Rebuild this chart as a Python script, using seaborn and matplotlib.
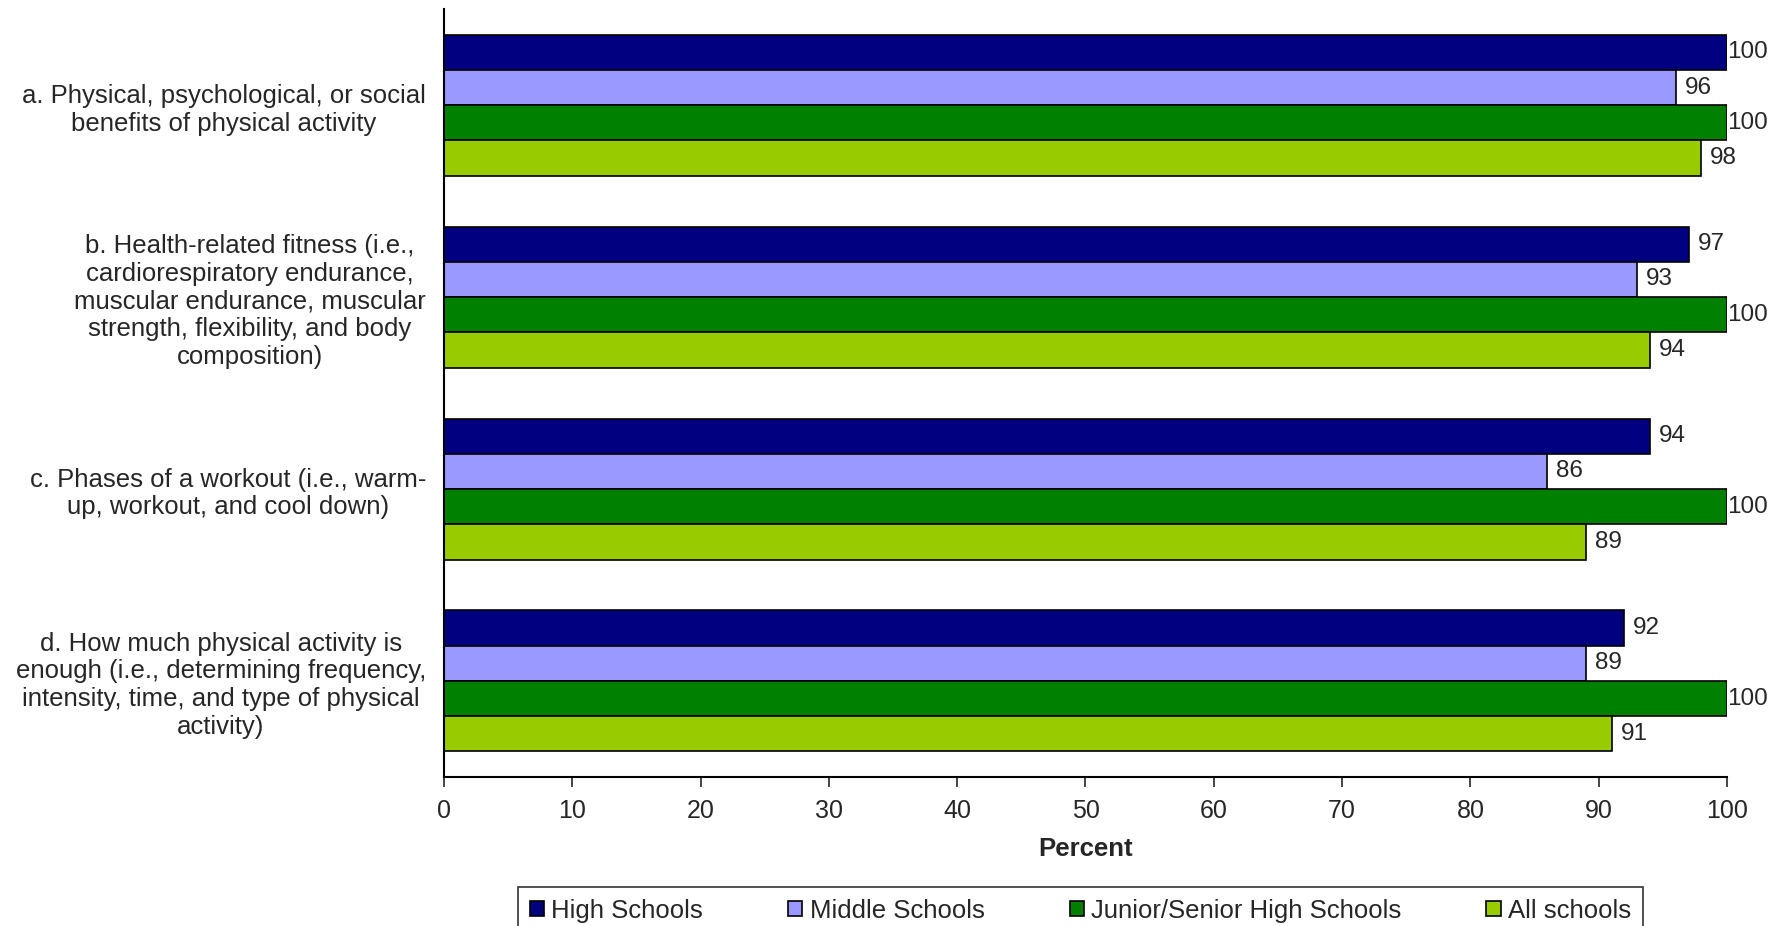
import matplotlib
matplotlib.use("Agg")
import matplotlib.pyplot as plt
import seaborn as sns
import pandas as pd

sns.set_style("white")
plt.rcParams['font.family'] = ['Liberation Sans', 'DejaVu Sans']

items = [
    "a. Physical, psychological, or social\nbenefits of physical activity",
    "b. Health-related fitness (i.e.,\ncardiorespiratory endurance,\nmuscular endurance, muscular\nstrength, flexibility, and body\ncomposition)",
    "c. Phases of a workout (i.e., warm-\nup, workout, and cool down)",
    "d. How much physical activity is\nenough (i.e., determining frequency,\nintensity, time, and type of physical\nactivity)",
]
schools = ["High Schools", "Middle Schools", "Junior/Senior High Schools", "All schools"]
high_schools = [100, 97, 94, 92]
middle_schools = [96, 93, 86, 89]
junior_senior = [100, 100, 100, 100]
all_schools = [98, 94, 89, 91]
colors = ["#000080", "#9999FF", "#008000", "#99CC00"]

rows = []
for school, vals in zip(schools, [high_schools, middle_schools, junior_senior, all_schools]):
    for item, v in zip(items, vals):
        rows.append({"item": item, "school": school, "value": v})
df = pd.DataFrame(rows)

fig = plt.figure(figsize=(17.83, 9.26), dpi=100)
ax = fig.add_axes([0.249, 0.161, 0.7196, 0.829])

sns.barplot(data=df, x="value", y="item", hue="school", order=items, hue_order=schools,
            palette=colors, orient="h", width=0.735, edgecolor="black", linewidth=1.2,
            errorbar=None, saturation=1, ax=ax)

# value labels
for cont in ax.containers:
    for bar in cont:
        val = bar.get_width()
        pad = 0 if val >= 100 else 9
        ax.annotate(f"{val:.0f}", xy=(val, bar.get_y() + bar.get_height() / 2),
                    xytext=(pad, 0), textcoords="offset pixels",
                    ha="left", va="center", fontsize=17.5, annotation_clip=False)

ax.set_xlim(0, 100)
ax.set_ylim(3.5, -0.5)
ax.set_xticks(range(0, 101, 10))
ax.set_xlabel("Percent", fontsize=18.5, fontweight="bold", labelpad=10)
ax.set_ylabel("")
ax.tick_params(axis="x", labelsize=18, direction="out", length=7, width=1.2, bottom=True, pad=9)
ax.tick_params(axis="y", labelsize=18.5, length=0, pad=13)
for lab in ax.get_yticklabels():
    lab.set_multialignment("center")
sns.despine(ax=ax, top=True, right=True)
for s in ["left", "bottom"]:
    ax.spines[s].set_color("black")
    ax.spines[s].set_linewidth(1.5)

handles, labels = ax.get_legend_handles_labels()
ax.get_legend().remove()
leg = fig.legend(handles, labels, ncols=4, loc="upper center", bbox_to_anchor=(0.606, 0.042),
                 fontsize=18.5, frameon=True, fancybox=False, edgecolor="black",
                 handlelength=0.55, handleheight=0.55, handletextpad=0.3, columnspacing=3.3,
                 borderpad=0.45, borderaxespad=0)
leg.get_frame().set_linewidth(1.2)

fig.savefig("out.png", dpi=100)
